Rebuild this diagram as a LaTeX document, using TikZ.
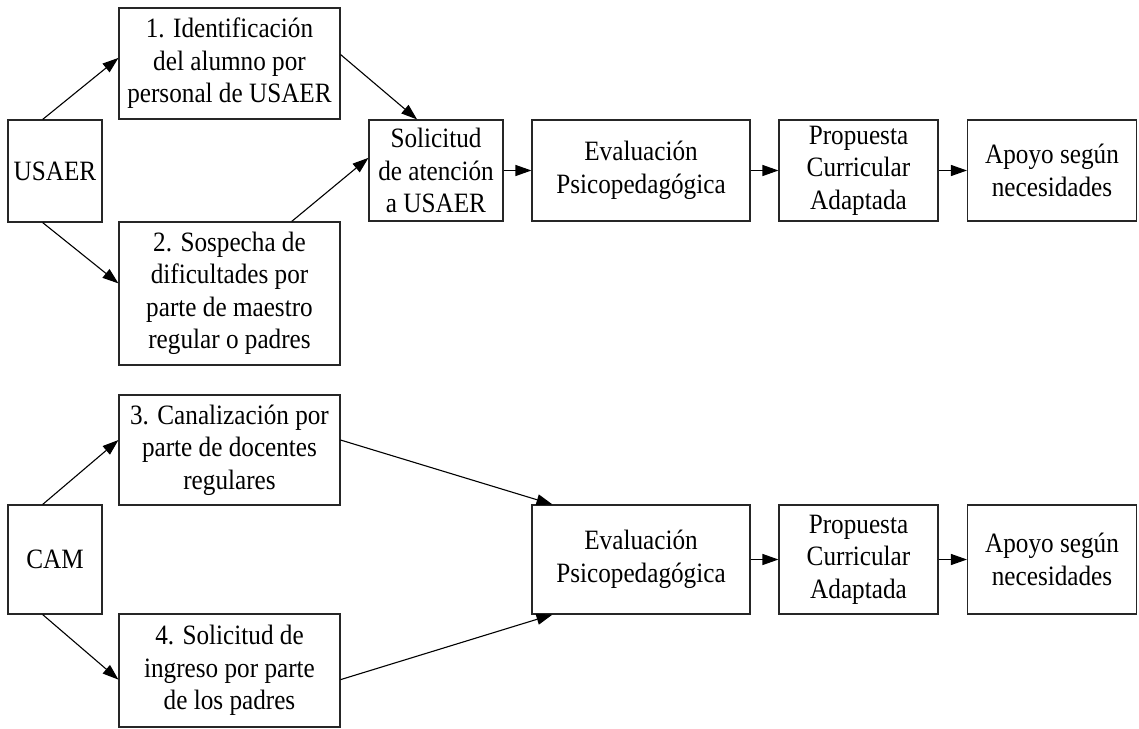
\documentclass[tikz,border=0pt]{standalone}
\usepackage{fontspec}
\setmainfont{Liberation Serif}[FakeStretch=0.9]
\usepackage{tikz}
\usetikzlibrary{arrows.meta, calc, positioning}
\tikzset{
    box/.style={draw=black!85, line width=1.1pt, align=center, inner sep=0pt, font=\fontsize{28}{32.5}\selectfont},
    flow/.style={line width=1.1pt, -{Triangle[length=16pt, width=11pt]}}
}
\begin{document}
\begin{tikzpicture}[x=1pt, y=-1pt]
    \useasboundingbox (0,0) rectangle (1139,728);
    % upper chain: USAER
    \node[box, minimum width=94pt, minimum height=102pt] (usaer) at (55,171) {USAER};
    \node[box, minimum width=221pt, minimum height=111pt] (ident) at (229.5,63.5) {1. Identificación\\del alumno por\\personal de USAER};
    \node[box, minimum width=221pt, minimum height=143pt] (sosp) at (229.5,293.5) {2. Sospecha de\\dificultades por\\parte de maestro\\regular o padres};
    \node[box, minimum width=134pt, minimum height=101pt] (sol) at (436,170.5) {Solicitud\\de atención\\a USAER};
    \node[box, minimum width=218pt, minimum height=101pt] (evaA) at (641,170.5) {Evaluación\\Psicopedagógica};
    \node[box, minimum width=159pt, minimum height=101pt] (propA) at (858.5,170.5) {Propuesta\\Curricular\\Adaptada};
    \node[box, minimum width=169pt, minimum height=101pt] (apoA) at (1052,170.5) {Apoyo según\\necesidades};
    % lower chain: CAM
    \node[box, minimum width=94pt, minimum height=109pt] (cam) at (55,559.5) {CAM};
    \node[box, minimum width=221pt, minimum height=110pt] (canal) at (229.5,450) {3. Canalización por\\parte de docentes\\regulares};
    \node[box, minimum width=221pt, minimum height=113pt] (ingr) at (229.5,670.5) {4. Solicitud de\\ingreso por parte\\de los padres};
    \node[box, minimum width=218pt, minimum height=109pt] (evaB) at (641,559.5) {Evaluación\\Psicopedagógica};
    \node[box, minimum width=159pt, minimum height=109pt] (propB) at (858.5,559.5) {Propuesta\\Curricular\\Adaptada};
    \node[box, minimum width=169pt, minimum height=109pt] (apoB) at (1052,559.5) {Apoyo según\\necesidades};
    % connectors, upper
    \draw[flow] ($(usaer.north west)!0.37!(usaer.north east)$) -- ($(ident.north west)!0.45!(ident.south west)$);
    \draw[flow] ($(usaer.south west)!0.37!(usaer.south east)$) -- ($(sosp.north west)!0.43!(sosp.south west)$);
    \draw[flow] ($(ident.north east)!0.42!(ident.south east)$) -- ($(sol.north west)!0.36!(sol.north east)$);
    \draw[flow] ($(sosp.north west)!0.78!(sosp.north east)$) -- ($(sol.north west)!0.376!(sol.south west)$);
    \draw[flow] (sol.east) -- (evaA.west);
    \draw[flow] (evaA.east) -- (propA.west);
    \draw[flow] (propA.east) -- (apoA.west);
    % connectors, lower
    \draw[flow] ($(cam.north west)!0.37!(cam.north east)$) -- ($(canal.north west)!0.41!(canal.south west)$);
    \draw[flow] ($(cam.south west)!0.37!(cam.south east)$) -- ($(ingr.north west)!0.58!(ingr.south west)$);
    \draw[flow] ($(canal.north east)!0.41!(canal.south east)$) -- ($(evaB.north west)!0.096!(evaB.north east)$);
    \draw[flow] ($(ingr.north east)!0.58!(ingr.south east)$) -- ($(evaB.south west)!0.096!(evaB.south east)$);
    \draw[flow] (evaB.east) -- (propB.west);
    \draw[flow] (propB.east) -- (apoB.west);
\end{tikzpicture}
\end{document}
